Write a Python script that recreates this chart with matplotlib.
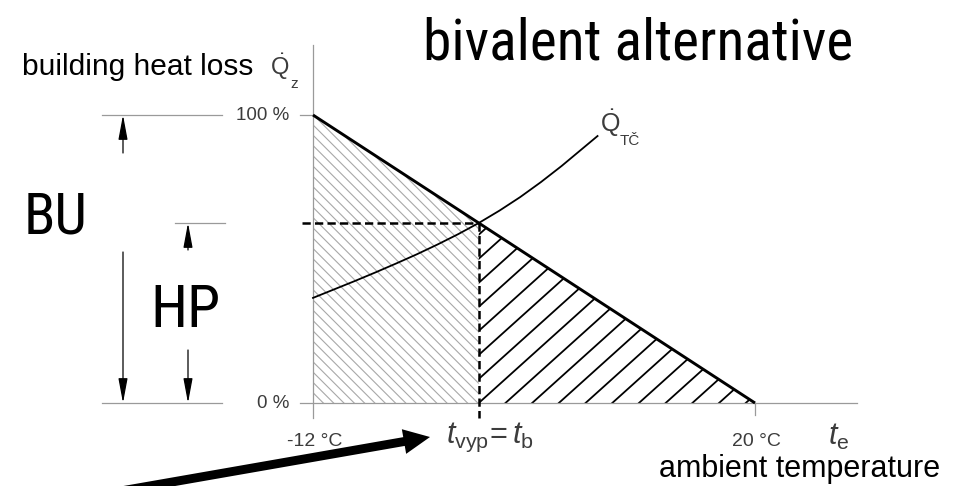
import os
import matplotlib
matplotlib.use("Agg")
import matplotlib.pyplot as plt
import numpy as np
from matplotlib import font_manager
from matplotlib.font_manager import FontProperties
from matplotlib.collections import LineCollection
from matplotlib.patches import Polygon

# ---------------- data ----------------
loss_temps = [-12, 20]          # building heat loss line (°C)
loss_pct = [100, 0]             # (% of design load)
biv_temp = 0                    # bivalent temperature t_vyp = t_b
biv_pct = 62.5
hp_temps = [-12, -10.5, -9, -7.5, -6, -4.5, -3, -1.5, 0, 1.5, 3, 4.5, 6, 7.5, 8.6]
hp_pct = [36.5, 39.4, 42.3, 45.3, 48.4, 51.6, 55.0, 58.6, 62.5, 66.8, 71.5, 76.7, 82.3, 88.3, 92.7]
y_ticks = [100, 0]
y_labels = ["100 %", "0 %"]
x_ticks = [-12, 20]
x_labels = ["-12 °C", "20 °C"]

# ---------------- fonts ----------------
plt.rcParams["font.family"] = ["Liberation Sans", "DejaVu Sans"]
plt.rcParams["mathtext.fontset"] = "custom"
plt.rcParams["mathtext.rm"] = "Liberation Sans"
plt.rcParams["mathtext.it"] = "Liberation Sans:italic"

prefs = ["liberation sans narrow", "arial narrow", "libe", "roboto condensed",
         "opensans-condensed", "open sans condensed", "notosans-condensed",
         "noto sans condensed", "condensed", "narrow"]
cands = []
for f in font_manager.fontManager.ttflist:
    n = (f.name + " " + os.path.basename(f.fname)).lower()
    if not ("narrow" in n or "condensed" in n):
        continue
    bad = any(k in os.path.basename(f.fname).lower()
              for k in ["bold", "italic", "oblique", "light", "thin", "black", "medium", "semibold", "extra", "mono"])
    if bad or f.style != "normal":
        continue
    rank = next((i for i, p in enumerate(prefs) if p in n), len(prefs))
    if "semi" in n:
        rank += 5
    cands.append((rank, f.fname))
cands.sort()
if cands:
    big_fp = FontProperties(fname=cands[0][1])
else:
    big_fp = FontProperties(family="Liberation Sans")

W, H = 957, 486
fig = plt.figure(figsize=(W / 100, H / 100), dpi=100)
ax = fig.add_axes([0, 0, 1, 1])
ax.set_axis_off()

# scale: -12 °C at px 313, 20 °C at px 755 ; 0 % at py 403, 100 % at py 115
sx = (755 - 313) / 32.0
sy = (403 - 115) / 100.0
ax.set_xlim(-12 - 313 / sx, 20 + (W - 755) / sx)
ax.set_ylim(-(H - 403) / sy, 100 + 115 / sy)


def px(x, y):
    """pixel position -> data position (for annotations only)"""
    return (x - 313) / sx - 12, (403 - y) / sy


GRAY = "#9a9a9a"
HATCH_GRAY = "#a8a8a8"
DARK = "#3c3c3c"

# ---------------- hatching ----------------
t0, t1 = loss_temps
slope_loss = (loss_pct[1] - loss_pct[0]) / (t1 - t0)
y_at_biv = loss_pct[0] + slope_loss * (biv_temp - t0)

left_poly = Polygon([(t0, 0), (t0, loss_pct[0]), (biv_temp, y_at_biv), (biv_temp, 0)],
                    closed=True, fc="none", ec="none")
right_poly = Polygon([(biv_temp, 0), (biv_temp, y_at_biv), (t1, 0)],
                     closed=True, fc="none", ec="none")
ax.add_patch(left_poly)
ax.add_patch(right_poly)

s_left = np.tan(np.radians(45)) * sx / sy
step_left = 10.3 / sx
segs = []
for x0 in np.arange(t0, t1 + 10, step_left):
    segs.append([(x0 - 40, 40 * s_left), (x0 + 40, -40 * s_left)])
lc = LineCollection(segs, colors=HATCH_GRAY, linewidths=0.8)
ax.add_collection(lc)
lc.set_clip_path(left_poly)

s_right = np.tan(np.radians(42)) * sx / sy
step_right = 26.7 / sx
segs = []
for k in range(-12, 14):
    x0 = biv_temp + k * step_right
    segs.append([(x0 - 40, -40 * s_right), (x0 + 40, 40 * s_right)])
lc2 = LineCollection(segs, colors="black", linewidths=1.3)
ax.add_collection(lc2)
lc2.set_clip_path(right_poly)

# ---------------- axes / reference lines ----------------
ax.plot([t0, t0], [px(0, 418)[1], px(0, 45)[1]], color=GRAY, lw=0.9)
ax.plot([px(300, 0)[0], px(857, 0)[0]], [0, 0], color=GRAY, lw=0.9)
ax.plot([x_ticks[1], x_ticks[1]], [0, px(0, 415)[1]], color=GRAY, lw=0.9)
for yv in y_ticks:
    ax.plot([px(102, 0)[0], px(222, 0)[0]], [yv, yv], color=GRAY, lw=0.9)
ax.plot([px(300, 0)[0], t0], [y_ticks[0]] * 2, color=GRAY, lw=0.9)
ax.plot([px(175, 0)[0], px(225, 0)[0]], [biv_pct, biv_pct], color=GRAY, lw=0.9)

for yv, lab in zip(y_ticks, y_labels):
    ax.text(px(289, 0)[0], yv, lab, ha="right", va="center", fontsize=13.5, color=DARK)
for xv, lab in zip(x_ticks, x_labels):
    ax.text(xv + 0.1, px(0, 441)[1], lab, ha="center", va="center", fontsize=14, color=DARK)

# ---------------- main lines ----------------
ax.plot(loss_temps, loss_pct, color="black", lw=2.1, solid_capstyle="butt")
ax.plot(hp_temps, hp_pct, color="black", lw=1.3)
l1, = ax.plot([px(302, 0)[0], biv_temp], [biv_pct, biv_pct], color="black", lw=1.8)
l2, = ax.plot([biv_temp, biv_temp], [biv_pct, px(0, 418)[1]], color="black", lw=1.8)
l1.set_dashes((3.3, 1.7))
l2.set_dashes((3.3, 1.7))

# ---------------- dimension arrows ----------------
astyle = dict(arrowstyle="-|>,head_length=1.5,head_width=0.28", color="black",
              lw=0.9, shrinkA=0, shrinkB=0)


def dim(xp, y_tail_px, y_tip):
    x = px(xp, 0)[0]
    ax.annotate("", xy=(x, y_tip), xytext=(x, px(0, y_tail_px)[1]), arrowprops=astyle)


dim(123, 153, 100)
dim(123, 252, 0)
dim(188, 250, biv_pct)
dim(188, 350, 0)

# ---------------- big arrow ----------------
ax.annotate("", xy=px(430, 437), xytext=px(92, 496),
            arrowprops=dict(arrowstyle="simple,head_length=0.95,head_width=0.9,tail_width=0.32",
                            mutation_scale=20, color="black", lw=0, shrinkA=0, shrinkB=0))

# ---------------- texts ----------------
fig.canvas.draw()
renderer = fig.canvas.get_renderer()


def fit_width(t, target):
    bb = t.get_window_extent(renderer)
    if bb.width > 0:
        t.set_fontsize(t.get_fontsize() * target / bb.width)


tt = ax.text(*px(638, 60), "bivalent alternative", ha="center", va="baseline",
             fontproperties=big_fp.copy(), fontsize=40, color="black")
fit_width(tt, 430)
tb = ax.text(*px(56, 233), "BU", ha="center", va="baseline", fontproperties=big_fp.copy(), fontsize=38)
fit_width(tb, 64)
th = ax.text(*px(185, 327), "HP", ha="center", va="baseline", fontproperties=big_fp.copy(), fontsize=40)
fit_width(th, 70)

ax.text(*px(22, 75), "building heat loss", ha="left", va="baseline", fontsize=21.5)
ax.text(*px(940, 477), "ambient temperature", ha="right", va="baseline", fontsize=22)

ax.text(*px(270, 75), r"$\dot{\mathrm{Q}}$", ha="left", va="baseline", fontsize=17, color=DARK)
ax.text(*px(290, 88), "z", ha="left", va="baseline", fontsize=11, color=DARK)
ax.text(*px(600, 132), r"$\dot{\mathrm{Q}}$", ha="left", va="baseline", fontsize=18, color=DARK)
ax.text(*px(620, 145), "TČ", ha="left", va="baseline", fontsize=11, color=DARK)
ax.text(*px(828, 445), r"$t_{\mathrm{e}}$", ha="left", va="baseline", fontsize=22, color=DARK)
ax.text(*px(446, 443), r"$t_{\mathrm{vyp}}\!=t_{\mathrm{b}}$", ha="left", va="baseline",
        fontsize=22, color=DARK)

fig.savefig("out.png", dpi=100)
